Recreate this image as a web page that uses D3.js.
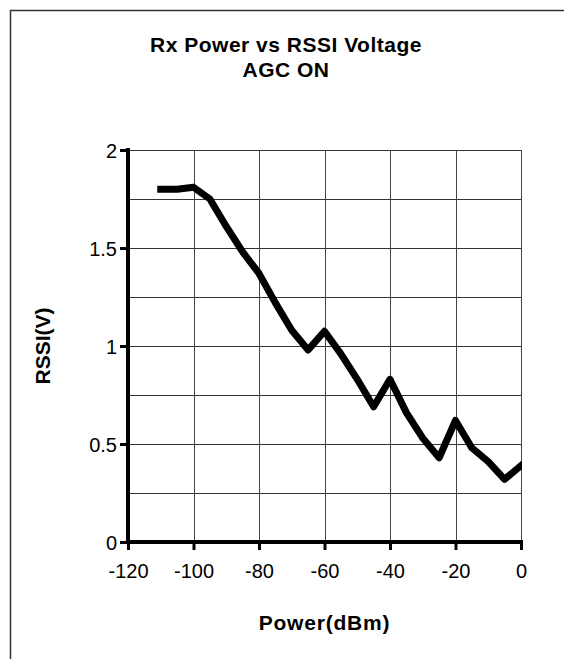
<!DOCTYPE html>
<html>
<head>
<meta charset="utf-8">
<script src="https://cdn.jsdelivr.net/npm/d3@7"></script>
<style>
  html, body { margin: 0; padding: 0; background: #fff; }
  svg { display: block; }
  text { font-family: "Liberation Sans", Arial, sans-serif; fill: #000; }
</style>
</head>
<body>
<svg id="chart" width="564" height="659"></svg>
<script>
// ---- data ----
const power = [-110, -105, -100, -95, -90, -85, -80, -75, -70, -65, -60, -55, -50, -45, -40, -35, -30, -25, -20, -15, -10, -5, 0];
const rssi  = [1.80, 1.80, 1.81, 1.75, 1.61, 1.48, 1.37, 1.22, 1.08, 0.98, 1.075, 0.96, 0.83, 0.69, 0.83, 0.66, 0.53, 0.43, 0.62, 0.48, 0.41, 0.32, 0.39];
const xTicks = [-120, -100, -80, -60, -40, -20, 0];
const yTicks = [0, 0.5, 1, 1.5, 2];
const yGrid  = [0.25, 0.5, 0.75, 1, 1.25, 1.5, 1.75, 2];
const titleLines = ["Rx Power vs RSSI Voltage", "AGC ON"];
const xLabel = "Power(dBm)";
const yLabel = "RSSI(V)";

// ---- layout ----
const svg = d3.select("#chart");
const plot = { left: 128, top: 150, right: 521, bottom: 542 };

const x = d3.scaleLinear().domain([-120, 0]).range([plot.left, plot.right]);
const y = d3.scaleLinear().domain([0, 2]).range([plot.bottom, plot.top]);

// chart area border (extends beyond the window on right / bottom)
svg.append("rect")
  .attr("x", 10.5).attr("y", 10.5)
  .attr("width", 700).attr("height", 800)
  .attr("fill", "#fff")
  .attr("stroke", "#333").attr("stroke-width", 1.5);

// title
const title = svg.append("text")
  .attr("text-anchor", "middle")
  .attr("font-size", 21).attr("font-weight", "bold")
  .attr("letter-spacing", 0.5);
titleLines.forEach((t, i) => {
  title.append("tspan").attr("x", 286).attr("y", 52 + i * 25).text(t);
});

// gridlines
const grid = svg.append("g");
grid.selectAll("line.h").data(yGrid).join("line")
  .attr("class", "h")
  .attr("x1", plot.left).attr("x2", plot.right)
  .attr("y1", d => Math.round(y(d)) + 0.5).attr("y2", d => Math.round(y(d)) + 0.5)
  .attr("stroke", "#333").attr("stroke-width", 1);
grid.selectAll("line.v").data(xTicks.slice(1)).join("line")
  .attr("class", "v")
  .attr("y1", plot.top).attr("y2", plot.bottom)
  .attr("x1", d => Math.round(x(d)) + 0.5).attr("x2", d => Math.round(x(d)) + 0.5)
  .attr("stroke", "#444").attr("stroke-width", 1);

// data line
svg.append("clipPath").attr("id", "clip")
  .append("rect")
  .attr("x", plot.left).attr("y", plot.top - 10)
  .attr("width", plot.right - plot.left + 1).attr("height", plot.bottom - plot.top + 10);

const pts = power.map((p, i) => [p, rssi[i]]);
svg.append("path")
  .datum(pts)
  .attr("clip-path", "url(#clip)")
  .attr("fill", "none")
  .attr("stroke", "#000")
  .attr("stroke-width", 7)
  .attr("stroke-linejoin", "round")
  .attr("stroke-linecap", "square")
  .attr("d", d3.line().x(d => x(d[0])).y(d => y(d[1])));

// axes
const yAxis = svg.append("g")
  .attr("transform", `translate(${plot.left},0)`)
  .call(d3.axisLeft(y).tickValues(yTicks).tickSize(8).tickPadding(3).tickFormat(d => String(d)));
yAxis.select(".domain").attr("stroke", "#000").attr("stroke-width", 4)
  .attr("d", `M0,${plot.top - 2}V${plot.bottom + 2}`);
yAxis.selectAll(".tick line").attr("stroke", "#000").attr("stroke-width", 3);
yAxis.selectAll(".tick text").attr("font-size", 20).attr("font-family", "Liberation Sans, Arial, sans-serif").attr("dy", "0.35em");

const xAxis = svg.append("g")
  .attr("transform", `translate(0,${plot.bottom})`)
  .call(d3.axisBottom(x).tickValues(xTicks).tickSize(8).tickPadding(14).tickFormat(d => String(d)));
xAxis.select(".domain").attr("stroke", "#000").attr("stroke-width", 4)
  .attr("d", `M${plot.left - 2},0H${plot.right + 2}`);
xAxis.selectAll(".tick line").attr("stroke", "#000").attr("stroke-width", 3);
xAxis.selectAll(".tick text").attr("font-size", 20).attr("font-family", "Liberation Sans, Arial, sans-serif");

// axis titles
svg.append("text")
  .attr("x", (plot.left + plot.right) / 2).attr("y", 630)
  .attr("text-anchor", "middle")
  .attr("font-size", 21).attr("font-weight", "bold").attr("letter-spacing", 0.8)
  .text(xLabel);

svg.append("text")
  .attr("transform", `translate(50,${(plot.top + plot.bottom) / 2}) rotate(-90)`)
  .attr("text-anchor", "middle")
  .attr("font-size", 21).attr("font-weight", "bold")
  .text(yLabel);
</script>
</body>
</html>
